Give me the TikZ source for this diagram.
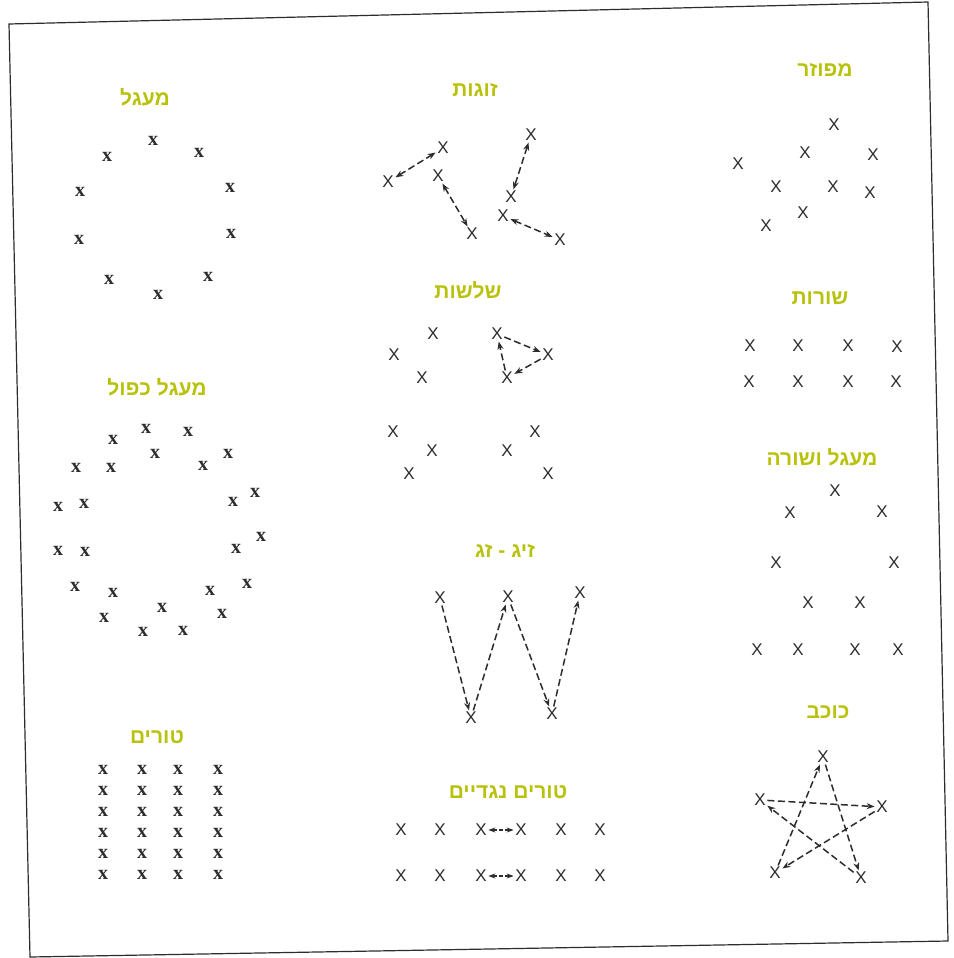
\documentclass[tikz,border=0pt]{standalone}
\usepackage{fontspec}
\setmainfont{Liberation Sans}
\newfontfamily\hebfont[Script=Hebrew]{Liberation Sans}
\newfontfamily\serifx{Liberation Serif}
\TeXXeTstate=1
\usetikzlibrary{arrows.meta}
\definecolor{lbl}{RGB}{184,194,10}
\definecolor{ink}{RGB}{45,45,45}
\begin{document}
\begin{tikzpicture}[x=1pt,y=-1pt,
 lab/.style={font=\hebfont\bfseries\fontsize{21}{21}\selectfont, text=lbl, inner sep=0pt},
 mx/.style={font=\serifx\bfseries\fontsize{20}{20}\selectfont, text=ink, inner sep=1pt},
 MX/.style={font=\fontsize{17}{17}\selectfont, text=ink, inner sep=1.5pt},
 tipA/.tip={Stealth[length=8pt,width=6pt]},
 dar/.style={draw=ink, line width=1.5pt, dash pattern=on 7pt off 3.5pt, -tipA},
 ddar/.style={draw=ink, line width=1.5pt, dash pattern=on 7pt off 3.5pt, tipA-tipA},
 frameline/.style={draw=ink, line width=1.2pt}]
\useasboundingbox (0,0) rectangle (953,958);
\fill[white] (0,0) rectangle (953,958);
\draw[frameline] (9,24) -- (928,2) -- (948,941) -- (30,957) -- cycle;

% labels
\node[lab] (l1) at (145,97) {\beginR מעגל\endR};
\node[lab] (l2) at (475,90) {\beginR זוגות\endR};
\node[lab] (l3) at (825,70) {\beginR מפוזר\endR};
\node[lab] (l4) at (468,290) {\beginR שלשות\endR};
\node[lab] (l5) at (820,298) {\beginR שורות\endR};
\node[lab] (l6) at (157,387) {\beginR מעגל כפול\endR};
\node[lab] (l7) at (822,457) {\beginR מעגל ושורה\endR};
\node[lab] (l8) at (505,551) {\beginR זיג - זג\endR};
\node[lab] (l9) at (828,712) {\beginR כוכב\endR};
\node[lab] (l10) at (157,737) {\beginR טורים\endR};
\node[lab] (l11) at (508,792) {\beginR טורים נגדיים\endR};

% circle
\foreach \n/\x/\y in {1/153/141,2/107/157,3/199/153,4/80/192,5/230/188,6/79/240,7/231/234,8/109/280,9/208/277,10/158/295}
  \node[mx] (c\n) at (\x,\y) {x};

% pairs
\foreach \n/\x/\y in {1/388/182,2/443/148,3/438/176,4/472/234,5/531/135,6/511/197,7/503/216,8/560/240}
  \node[MX] (p\n) at (\x,\y) {X};
\draw[ddar] (p1) -- (p2);
\draw[ddar] (p3) -- (p4);
\draw[ddar] (p5) -- (p6);
\draw[ddar] (p7) -- (p8);

% scattered
\foreach \n/\x/\y in {1/834/125,2/805/153,3/873/155,4/738/164,5/776/187,6/833/187,7/870/193,8/803/213,9/766/226}
  \node[MX] (s\n) at (\x,\y) {X};

% triples
\foreach \n/\x/\y in {1/433/334,2/394/355,3/422/378,4/497/334,5/548/355,6/507/378,7/393/432,8/432/451,9/409/474,10/535/432,11/507/451,12/548/474}
  \node[MX] (t\n) at (\x,\y) {X};
\draw[dar] (t4) -- (t5);
\draw[dar] (t5) -- (t6);
\draw[dar] (t6) -- (t4);

% rows
\foreach \n/\x/\y in {1/750/346,2/798/346,3/848/346,4/897/347,5/749/382,6/798/382,7/848/382,8/896/382}
  \node[MX] (r\n) at (\x,\y) {X};

% circle and row
\foreach \n/\x/\y in {1/835/491,2/790/513,3/882/512,4/776/563,5/894/563,6/808/603,7/860/603,8/757/650,9/798/650,10/855/650,11/898/650}
  \node[MX] (q\n) at (\x,\y) {X};

% double circle
\foreach \n/\x/\y in {1/146/429,2/188/432,3/113/440,4/155/454,5/228/454,6/76/468,7/111/468,8/203/466,9/255/493,10/58/507,11/84/504,12/233/502,13/261/537,14/58/551,15/85/552,16/236/549,17/75/587,18/113/593,19/210/591,20/247/584,21/162/608,22/104/618,23/222/614,24/143/632,25/183/631}
  \node[mx] (d\n) at (\x,\y) {x};

% zigzag
\foreach \n/\x/\y in {1/440/598,2/508/597,3/580/593,4/471/718,5/552/714}
  \node[MX] (z\n) at (\x,\y) {X};
\draw[dar] (z1) -- (z4);
\draw[dar] (z4) -- (z2);
\draw[dar] (z2) -- (z5);
\draw[dar] (z5) -- (z3);

% star
\node[MX] (sT) at (823,757) {X};
\node[MX] (sL) at (760,800) {X};
\node[MX] (sR) at (882,807) {X};
\node[MX] (sBL) at (775,873) {X};
\node[MX] (sBR) at (861,878) {X};
\draw[dar] (sBL) -- (sT);
\draw[dar] (sT) -- (sBR);
\draw[dar] (sBR) -- (sL);
\draw[dar] (sL) -- (sR);
\draw[dar] (sR) -- (sBL);

% columns
\foreach \i/\x in {1/103,2/142,3/178,4/218}
  \foreach \j/\y in {1/770,2/791,3/812,4/833,5/854,6/875}
    \node[mx] (k\i\j) at (\x,\y) {x};

% opposite columns
\foreach \i/\x in {1/401,2/440,3/481,4/521,5/561,6/600}
  \foreach \j/\y in {1/830,2/876}
    \node[MX] (o\i\j) at (\x,\y) {X};
\draw[ddar, dash pattern=on 4pt off 2pt, {Stealth[length=7pt,width=5pt]}-{Stealth[length=7pt,width=5pt]}] (o31) -- (o41);
\draw[ddar, dash pattern=on 4pt off 2pt, {Stealth[length=7pt,width=5pt]}-{Stealth[length=7pt,width=5pt]}] (o32) -- (o42);
\end{tikzpicture}
\end{document}
